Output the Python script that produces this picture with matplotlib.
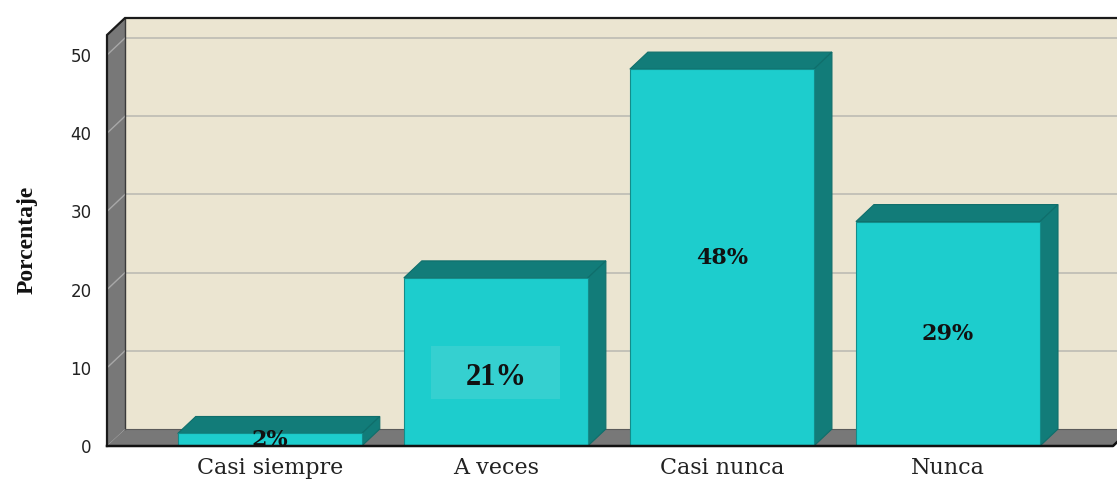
import matplotlib
matplotlib.use("Agg")
import matplotlib.pyplot as plt
from matplotlib.patches import Polygon, Rectangle

categories = ["Casi siempre", "A veces", "Casi nunca", "Nunca"]
values = [1.6, 21.5, 48.2, 28.7]
value_labels = ["2%", "21%", "48%", "29%"]
yticks = [0, 10, 20, 30, 40, 50]
ylabel = "Porcentaje"

W, H, DPI = 1117, 479, 100
fig = plt.figure(figsize=(W / DPI, H / DPI), dpi=DPI)
fig.patch.set_facecolor("white")

# axes geometry (front plane) in pixels
left_px, right_px, top_px, bot_px = 107, 1113, 35, 446
ax = fig.add_axes([left_px / W, (H - bot_px) / H,
                   (right_px - left_px) / W, (bot_px - top_px) / H])
xmin, xmax = -0.72, 3.73
ymin, ymax = 0, 52.56
ax.set_xlim(xmin, xmax)
ax.set_ylim(ymin, ymax)
ax.set_facecolor("none")
for s in ax.spines.values():
    s.set_visible(False)

# depth offset in data units
depth_x_px, depth_y_px = 18, 17
ddx = depth_x_px / (right_px - left_px) * (xmax - xmin)
ddy = depth_y_px / (bot_px - top_px) * (ymax - ymin)

wall_col = "#EBE5D1"
side_gray = "#787878"
grid_col = "#BDBBB4"
bar_front = "#1DCDCD"
bar_dark = "#127C79"

# back wall
ax.add_patch(Rectangle((xmin + ddx, ddy), xmax - xmin, ymax - ymin,
                       facecolor=wall_col, edgecolor="none", clip_on=False, zorder=1))
# back gridlines
for t in yticks[1:]:
    ax.plot([xmin + ddx, xmax + ddx], [t + ddy, t + ddy], color=grid_col, lw=1.2,
            clip_on=False, zorder=2)
# left wall
ax.add_patch(Polygon([(xmin, 0), (xmin, ymax), (xmin + ddx, ymax + ddy), (xmin + ddx, ddy)],
                     closed=True, facecolor=side_gray, edgecolor="none", clip_on=False, zorder=3))
for t in yticks[1:]:
    ax.plot([xmin, xmin + ddx], [t, t + ddy], color="#A8A8A8", lw=1.0, clip_on=False, zorder=4)
# back wall left edge
ax.plot([xmin + ddx, xmin + ddx], [ddy, ymax + ddy], color="#3A3A3A", lw=1.0, clip_on=False, zorder=4)
# floor
ax.add_patch(Polygon([(xmin, 0), (xmax, 0), (xmax + ddx, ddy), (xmin + ddx, ddy)],
                     closed=True, facecolor=side_gray, edgecolor="none", clip_on=False, zorder=3))
ax.plot([xmin + ddx, xmax + ddx], [ddy, ddy], color="#5A5A5A", lw=0.8, clip_on=False, zorder=4)

# bars
xs = list(range(len(categories)))
bw = 184 / 226
ax.bar(xs, values, width=bw, color=bar_front, edgecolor="#138C8A", linewidth=0.8, zorder=6)
for x, v in zip(xs, values):
    x0, x1 = x - bw / 2, x + bw / 2
    ax.add_patch(Polygon([(x0, v), (x1, v), (x1 + ddx, v + ddy), (x0 + ddx, v + ddy)],
                         closed=True, facecolor=bar_dark, edgecolor="#0F6E6B", lw=0.8,
                         clip_on=False, zorder=5))
    ax.add_patch(Polygon([(x1, 0), (x1, v), (x1 + ddx, v + ddy), (x1 + ddx, ddy)],
                         closed=True, facecolor=bar_dark, edgecolor="#0F6E6B", lw=0.8,
                         clip_on=False, zorder=5))

# frame edges
ax.plot([xmin, xmin, xmin + ddx, xmax + ddx], [0, ymax, ymax + ddy, ymax + ddy],
        color="#1A1A1A", lw=1.6, clip_on=False, zorder=7, solid_joinstyle="miter")
ax.plot([xmin, xmax, xmax + ddx], [0, 0, ddy], color="#111111", lw=1.8,
        clip_on=False, zorder=7)

# value labels
for i, (x, v, lab) in enumerate(zip(xs, values, value_labels)):
    if i == 1:
        box_w, box_h = 129 / 226, 6.8
        ax.add_patch(Rectangle((x - box_w / 2, v * 0.437 - box_h / 2), box_w, box_h,
                               facecolor="#35D0D0", edgecolor="none", zorder=7))
        ax.text(x, v * 0.405, lab, ha="center", va="center", fontsize=22,
                family="Liberation Serif", fontweight="bold", color="#111111", zorder=8)
    else:
        t = ax.text(x, v / 2, lab, ha="center", va="center", fontsize=16,
                    family="DejaVu Serif", fontweight="bold", color="#111111", zorder=8)
        t.set_clip_on(True)

# ticks
ax.set_yticks(yticks)
ax.set_yticklabels([str(t) for t in yticks], fontsize=12, family="DejaVu Sans", color="#222222")
ax.set_xticks(xs)
ax.set_xticklabels(categories, fontsize=16, family="DejaVu Serif", color="#222222")
ax.tick_params(axis="y", length=0, pad=11)
ax.tick_params(axis="x", length=0, pad=8)

fig.text(27 / W, 1 - 240 / H, ylabel, rotation=90, ha="center", va="center",
         fontsize=17, family="Liberation Serif", fontweight="bold", color="#111111")

fig.savefig("out.png", dpi=DPI)
